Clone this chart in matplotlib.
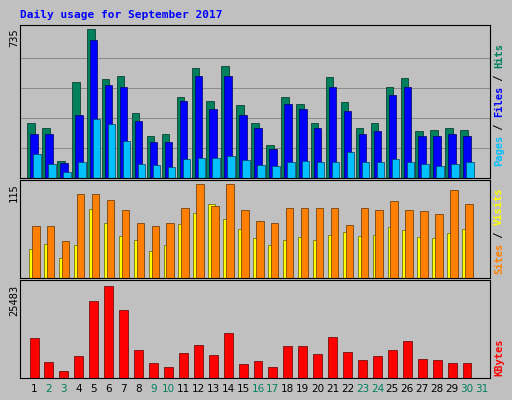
import matplotlib
matplotlib.use("Agg")
import matplotlib.pyplot as plt
import numpy as np

days = list(range(1, 31))
hits = [268,243,84,472,730,487,502,318,204,218,397,541,377,551,357,268,164,397,362,268,497,372,243,268,447,492,228,233,243,233]
files = [218,218,74,308,675,457,447,278,174,174,377,502,338,502,308,243,144,362,338,243,447,328,218,228,407,447,208,208,218,208]
pages = [119,70,30,79,288,263,179,70,65,55,94,99,99,109,89,65,60,79,84,79,79,129,79,79,94,79,70,60,70,79]
visits = [62,62,44,100,100,93,81,66,62,66,84,112,86,112,81,68,66,84,84,84,84,63,84,81,92,81,80,77,105,89]
sites = [35,41,24,39,83,66,50,46,32,40,65,78,88,71,59,48,39,46,49,45,51,55,50,51,61,57,49,48,54,59]
kbytes = [10900,4500,2000,6200,21300,25483,18800,7800,4200,3100,7000,9200,6400,12300,3900,4800,3100,8700,8700,6700,11200,7300,5000,6200,7800,10100,5300,5000,4200,4200]
max_hits, max_visits, max_kb = 735, 115, 25483
weekend = {2,3,9,10,16,17,23,24,30,31}

W, H = 512, 400
fig = plt.figure(figsize=(W/100, H/100), dpi=100)
fig.patch.set_facecolor('#C0C0C0')
mono = 'DejaVu Sans Mono'
fig.text(20/W, 1-15/H, 'Daily usage for September 2017', color='#0000FF',
         fontfamily=mono, fontweight='bold', fontsize=8, va='center')

xl = (0.06, 31.54)
def mk(top, bot):
    ax = fig.add_axes([20/W, 1-bot/H, 470/W, (bot-top)/H])
    ax.set_facecolor('#C0C0C0')
    ax.set_xlim(*xl)
    ax.set_xticks([])
    ax.set_yticks([])
    for s in ax.spines.values():
        s.set_color('black'); s.set_linewidth(0.8)
    return ax

d = np.array(days)
ax1 = mk(25, 178)
ax1.set_ylim(0, max_hits*1.02)
for g in np.linspace(0, max_hits, 6)[1:-1]:
    ax1.axhline(g, color='#808080', lw=0.6, zorder=0)
ax1.bar(d-0.2, hits, 0.5, color='#00805C', edgecolor='#003020', lw=0.5)
ax1.bar(d, files, 0.5, color='#0000FF', edgecolor='#000060', lw=0.5)
ax1.bar(d+0.2, pages, 0.5, color='#00C0FF', edgecolor='#004060', lw=0.5)

ax2 = mk(180, 278)
ax2.set_ylim(0, max_visits*1.02)
ax2.bar(d-0.1, sites, 0.45, color='#FFFF00', edgecolor='#606000', lw=0.5)
ax2.bar(d+0.12, visits, 0.5, color='#FF8000', edgecolor='#603000', lw=0.5)

ax3 = mk(280, 378)
ax3.set_ylim(0, max_kb*1.06)
ax3.bar(d, kbytes, 0.6, color='#FF0000', edgecolor='#600000', lw=0.5)

for i in range(1, 32):
    x = 20/W + (i-xl[0])/(xl[1]-xl[0])*470/W
    fig.text(x, 1-389/H, str(i), ha='center', va='center', fontsize=7.5,
             color='#00805C' if i in weekend else 'black')

fig.text(14/W, 1-28/H, '735', rotation=90, ha='center', va='top', fontfamily=mono, fontsize=7.5)
fig.text(14/W, 1-183/H, '115', rotation=90, ha='center', va='top', fontfamily=mono, fontsize=7.5)
fig.text(14/W, 1-285/H, '25483', rotation=90, ha='center', va='top', fontfamily=mono, fontsize=7.5)

def rlabel(parts, ybot):
    y = 1-ybot/H
    for txt, col in parts:
        fig.text(499/W, y, txt, rotation=90, ha='center', va='bottom', fontfamily=mono,
                 fontsize=7.5, color=col, fontweight='bold')
        y += len(txt)*6.1/H
rlabel([('Pages', '#00C0FF'), (' / ', 'black'), ('Files', '#0000FF'), (' / ', 'black'), ('Hits', '#00805C')], 166)
rlabel([('Sites', '#FF8000'), (' / ', 'black'), ('Visits', '#FFFF00')], 274)
rlabel([('KBytes', '#FF0000')], 376)
fig.savefig('out.png', dpi=100, facecolor=fig.get_facecolor())
